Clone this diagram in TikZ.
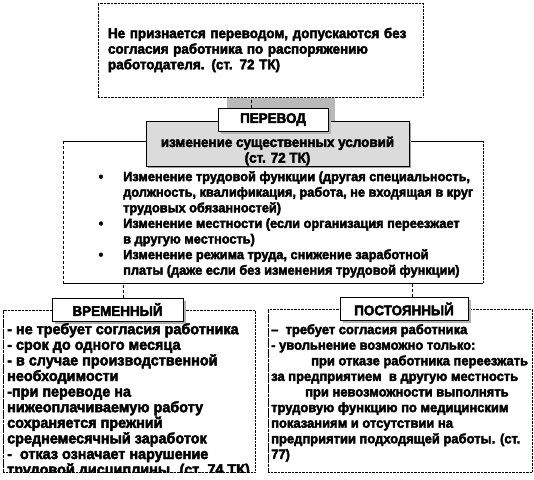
\documentclass[tikz,border=0pt]{standalone}
\usepackage{fontspec}
\setmainfont[BoldFont={Liberation Sans Bold}, FakeStretch=0.96, BoldFeatures={FakeBold=3}]{Liberation Sans}
\usetikzlibrary{positioning,shadows}

\begin{document}
\begin{tikzpicture}[
    x=1pt, y=-1pt,
    every node/.style={font=\bfseries\fontsize{14}{15.6}\selectfont, inner sep=0pt},
    notebox/.style={draw, densely dotted, align=left, text width=305pt, inner xsep=10pt, minimum height=94pt},
    headbox/.style={draw, fill=gray!28, minimum width=263pt, minimum height=45pt,
        drop shadow={shadow xshift=2pt, shadow yshift=-2pt, fill=gray!75, opacity=1}},
    tagbox/.style={draw, fill=white, minimum height=23pt,
        drop shadow={shadow xshift=2.5pt, shadow yshift=-2.5pt, fill=gray!60, opacity=1}},
    kindbox/.style={draw, densely dotted},
    textblock/.style={anchor=north west, align=left},
    link/.style={densely dashed},
]
\useasboundingbox (0,0) rectangle (534,479);

% upper note
\node[notebox] (note) at (260.5,50) {Не признается переводом, допускаются без\\
    согласия работника по распоряжению\\
    работодателя. (ст. 72 ТК)};
\fill[gray!55] (227,98) rectangle (335,121);

% frame of the list
\node[minimum width=420pt, minimum height=142pt] (list) at (273,212) {};
\draw (list.north west) -- (list.north east);
\draw (list.south west) -- (list.south east);
\draw[densely dashed] (list.north west) -- (list.south west);
\draw[densely dotted] (list.north east) -- (list.south east);

\node[headbox] (head) at (277.5,143.5) {};
\node[align=center] (headtext) at (277.5,151) {изменение существенных условий\\(ст. 72 ТК)};
\node[tagbox, minimum width=110pt] (transfer) at (273,119.5) {ПЕРЕВОД};
\draw[link] ([xshift=-22pt]transfer.north) -- ([xshift=-22pt]transfer.north |- note.south);

\node[textblock, font=\bfseries\fontsize{13.3}{15.6}\selectfont] (items) at (123,171) {%
    \llap{\textbullet\hspace{20pt}}Изменение трудовой функции (другая специальность,\\
    должность, квалификация, работа, не входящая в круг\\
    трудовых обязанностей)\\
    \llap{\textbullet\hspace{20pt}}Изменение местности (если организация переезжает\\
    в другую местность)\\
    \llap{\textbullet\hspace{20pt}}Изменение режима труда, снижение заработной\\
    платы (даже если без изменения трудовой функции)};

% two kinds
\node[kindbox, minimum width=252pt, minimum height=162pt] (temp) at (129,391) {};
\node[kindbox, minimum width=264pt, minimum height=163pt] (perm) at (400,390.5) {};
\draw[densely dashed] (temp.north west) -- (temp.south west);
\draw[densely dashed] (perm.north west) -- (perm.south west);

\node[tagbox, minimum width=131pt] (temptag) at (117.5,309.5) {ВРЕМЕННЫЙ};
\node[tagbox, minimum width=128pt] (permtag) at (404,309) {ПОСТОЯННЫЙ};
\draw[link] ([xshift=5.5pt]temptag.north) -- ([xshift=5.5pt]temptag.north |- list.south);
\draw[link] ([xshift=8pt]permtag.north) -- ([xshift=8pt]permtag.north |- list.south);

\begin{scope}
\clip (temp.north west) rectangle (temp.south east);
\node[textblock, font=\bfseries\fontsize{15}{15.6}\selectfont] (temptext) at (7,323) {- не требует согласия работника\\
    - срок до одного месяца\\
    - в случае производственной\\
    необходимости\\
    -при переводе на\\
    нижеоплачиваемую работу\\
    сохраняется прежний\\
    среднемесячный заработок\\
    - \ отказ означает нарушение\\
    трудовой дисциплины. (ст. 74 ТК)};
\end{scope}

\node[textblock, font=\bfseries\fontsize{13.5}{15.6}\selectfont] (permtext) at (271,324) {– \ требует согласия работника\\
    - увольнение возможно только:\\
    \hspace*{40pt}при отказе работника переезжать\\
    за предприятием \ в другую местность\\
    \hspace*{34pt}при невозможности выполнять\\
    трудовую функцию по медицинским\\
    показаниям и отсутствии на\\
    предприятии подходящей работы. (ст.\\
    77)};
\end{tikzpicture}
\end{document}
